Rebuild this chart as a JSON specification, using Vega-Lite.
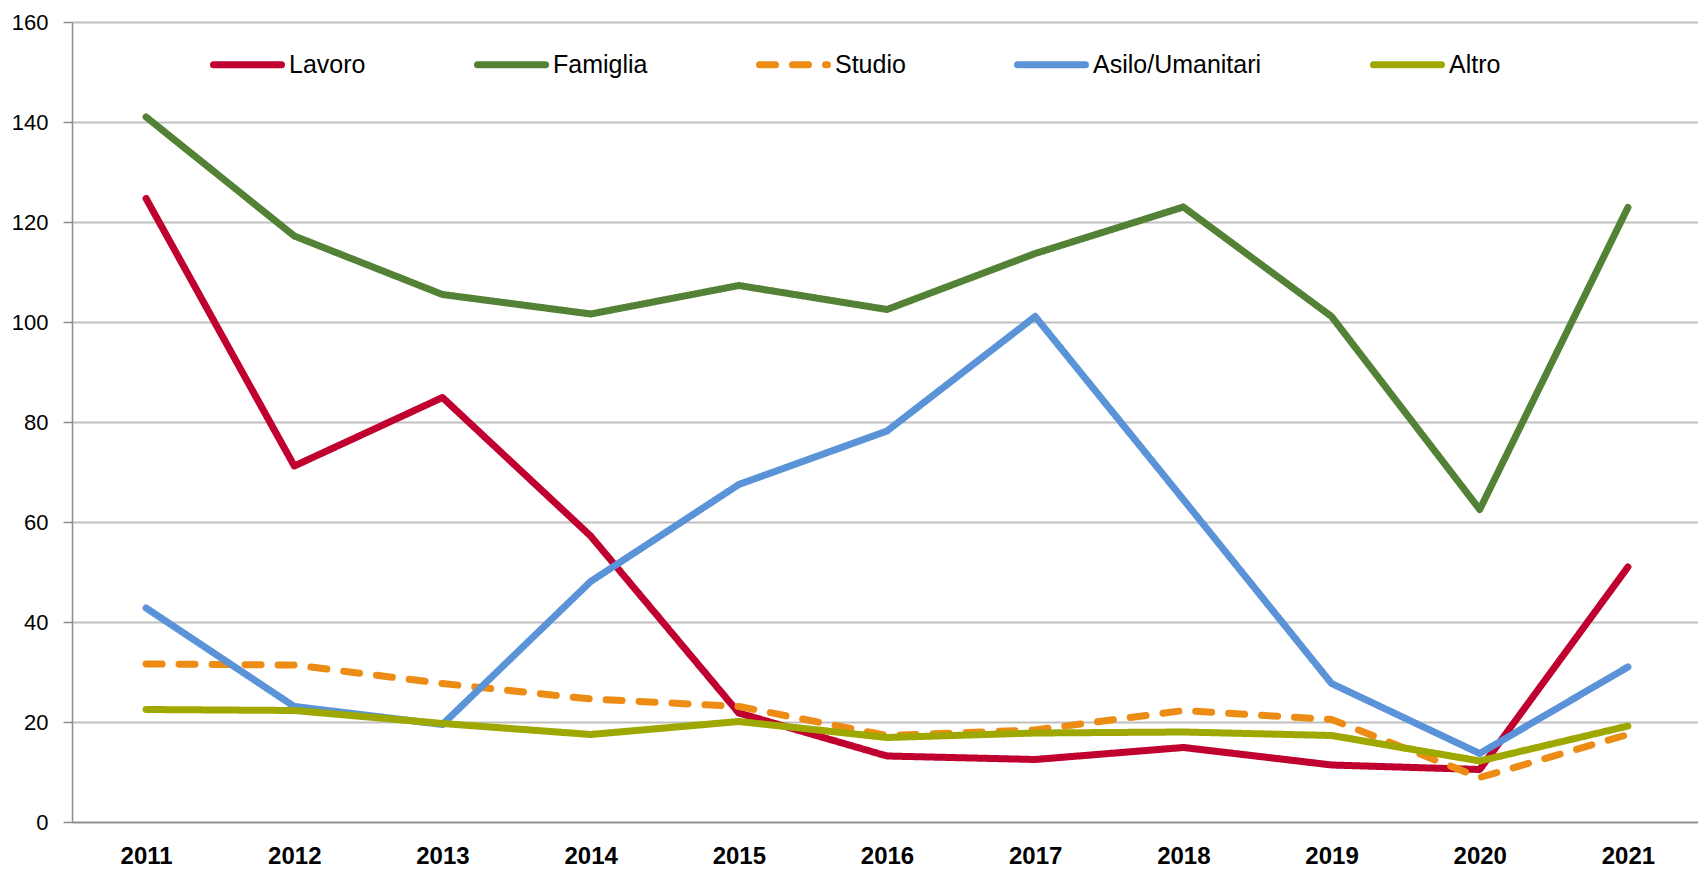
{
  "$schema": "https://vega.github.io/schema/vega-lite/v6.json",
  "autosize": "none",
  "width": 1630,
  "height": 800,
  "padding": {"left": 72, "top": 22, "right": 0, "bottom": 49},
  "background": "white",
  "config": {
    "view": {"stroke": null},
    "font": "Liberation Sans"
  },
  "data": {
    "values": [
      {"year": "2011", "series": "Lavoro", "value": 124.7},
      {"year": "2012", "series": "Lavoro", "value": 71.2},
      {"year": "2013", "series": "Lavoro", "value": 84.9},
      {"year": "2014", "series": "Lavoro", "value": 57.2},
      {"year": "2015", "series": "Lavoro", "value": 21.8},
      {"year": "2016", "series": "Lavoro", "value": 13.2},
      {"year": "2017", "series": "Lavoro", "value": 12.5},
      {"year": "2018", "series": "Lavoro", "value": 14.9},
      {"year": "2019", "series": "Lavoro", "value": 11.4},
      {"year": "2020", "series": "Lavoro", "value": 10.5},
      {"year": "2021", "series": "Lavoro", "value": 51.0},
      {"year": "2011", "series": "Famiglia", "value": 141.0},
      {"year": "2012", "series": "Famiglia", "value": 117.2},
      {"year": "2013", "series": "Famiglia", "value": 105.5},
      {"year": "2014", "series": "Famiglia", "value": 101.6},
      {"year": "2015", "series": "Famiglia", "value": 107.3},
      {"year": "2016", "series": "Famiglia", "value": 102.5},
      {"year": "2017", "series": "Famiglia", "value": 113.7},
      {"year": "2018", "series": "Famiglia", "value": 123.0},
      {"year": "2019", "series": "Famiglia", "value": 101.1},
      {"year": "2020", "series": "Famiglia", "value": 62.5},
      {"year": "2021", "series": "Famiglia", "value": 122.9},
      {"year": "2011", "series": "Studio", "value": 31.6},
      {"year": "2012", "series": "Studio", "value": 31.4},
      {"year": "2013", "series": "Studio", "value": 27.7},
      {"year": "2014", "series": "Studio", "value": 24.6},
      {"year": "2015", "series": "Studio", "value": 23.1},
      {"year": "2016", "series": "Studio", "value": 17.3},
      {"year": "2017", "series": "Studio", "value": 18.4},
      {"year": "2018", "series": "Studio", "value": 22.3},
      {"year": "2019", "series": "Studio", "value": 20.5},
      {"year": "2020", "series": "Studio", "value": 8.9},
      {"year": "2021", "series": "Studio", "value": 17.5},
      {"year": "2011", "series": "Asilo/Umanitari", "value": 42.8},
      {"year": "2012", "series": "Asilo/Umanitari", "value": 23.1},
      {"year": "2013", "series": "Asilo/Umanitari", "value": 19.5},
      {"year": "2014", "series": "Asilo/Umanitari", "value": 48.1},
      {"year": "2015", "series": "Asilo/Umanitari", "value": 67.5},
      {"year": "2016", "series": "Asilo/Umanitari", "value": 78.2},
      {"year": "2017", "series": "Asilo/Umanitari", "value": 101.1},
      {"year": "2018", "series": "Asilo/Umanitari", "value": 64.5},
      {"year": "2019", "series": "Asilo/Umanitari", "value": 27.7},
      {"year": "2020", "series": "Asilo/Umanitari", "value": 13.7},
      {"year": "2021", "series": "Asilo/Umanitari", "value": 31.0},
      {"year": "2011", "series": "Altro", "value": 22.5},
      {"year": "2012", "series": "Altro", "value": 22.3},
      {"year": "2013", "series": "Altro", "value": 19.7},
      {"year": "2014", "series": "Altro", "value": 17.5},
      {"year": "2015", "series": "Altro", "value": 20.1},
      {"year": "2016", "series": "Altro", "value": 16.9},
      {"year": "2017", "series": "Altro", "value": 17.8},
      {"year": "2018", "series": "Altro", "value": 18.0},
      {"year": "2019", "series": "Altro", "value": 17.3},
      {"year": "2020", "series": "Altro", "value": 12.2},
      {"year": "2021", "series": "Altro", "value": 19.2}
    ]
  },
  "mark": {"type": "line", "strokeCap": "round", "strokeJoin": "round"},
  "encoding": {
    "x": {
      "field": "year",
      "type": "ordinal",
      "scale": {"type": "point", "padding": 0.5},
      "axis": {
        "title": null,
        "labelAngle": 0,
        "labelFontSize": 24,
        "labelFontWeight": "bold",
        "labelColor": "black",
        "labelPadding": 22,
        "ticks": false,
        "grid": false,
        "domainColor": "#8c8c8c",
        "domainWidth": 1.5
      }
    },
    "y": {
      "field": "value",
      "type": "quantitative",
      "scale": {"domain": [0, 160], "nice": false},
      "axis": {
        "title": null,
        "values": [0, 20, 40, 60, 80, 100, 120, 140, 160],
        "labelFontSize": 22,
        "labelColor": "black",
        "labelPadding": 15,
        "tickSize": 9,
        "tickColor": "#8c8c8c",
        "tickWidth": 1.5,
        "domainColor": "#8c8c8c",
        "domainWidth": 1.5,
        "gridColor": "#c0c0c0",
        "gridWidth": 2
      }
    },
    "color": {
      "field": "series",
      "type": "nominal",
      "sort": null,
      "scale": {
        "domain": ["Lavoro", "Famiglia", "Studio", "Asilo/Umanitari", "Altro"],
        "range": ["#c0002f", "#538135", "#ec8c14", "#5a93d7", "#9ea800"]
      },
      "legend": {
        "title": null,
        "orient": "none",
        "legendX": 138,
        "legendY": 5,
        "direction": "horizontal",
        "columns": 5,
        "columnPadding": 97,
        "padding": 0,
        "symbolType": "stroke",
        "symbolSize": 4624,
        "symbolStrokeWidth": 7,
        "labelFontSize": 25,
        "labelColor": "black",
        "labelOffset": 4,
        "labelLimit": 400,
        "encode": {
          "symbols": {"update": {"strokeCap": {"value": "round"}}}
        }
      }
    },
    "strokeDash": {
      "field": "series",
      "type": "nominal",
      "scale": {
        "domain": ["Lavoro", "Famiglia", "Studio", "Asilo/Umanitari", "Altro"],
        "range": [[1, 0], [1, 0], [16, 17], [1, 0], [1, 0]]
      },
      "legend": null
    },
    "strokeWidth": {
      "field": "series",
      "type": "nominal",
      "scale": {
        "domain": ["Lavoro", "Famiglia", "Studio", "Asilo/Umanitari", "Altro"],
        "range": [7, 7, 7, 4.5, 4.5]
      },
      "legend": null
    }
  }
}
